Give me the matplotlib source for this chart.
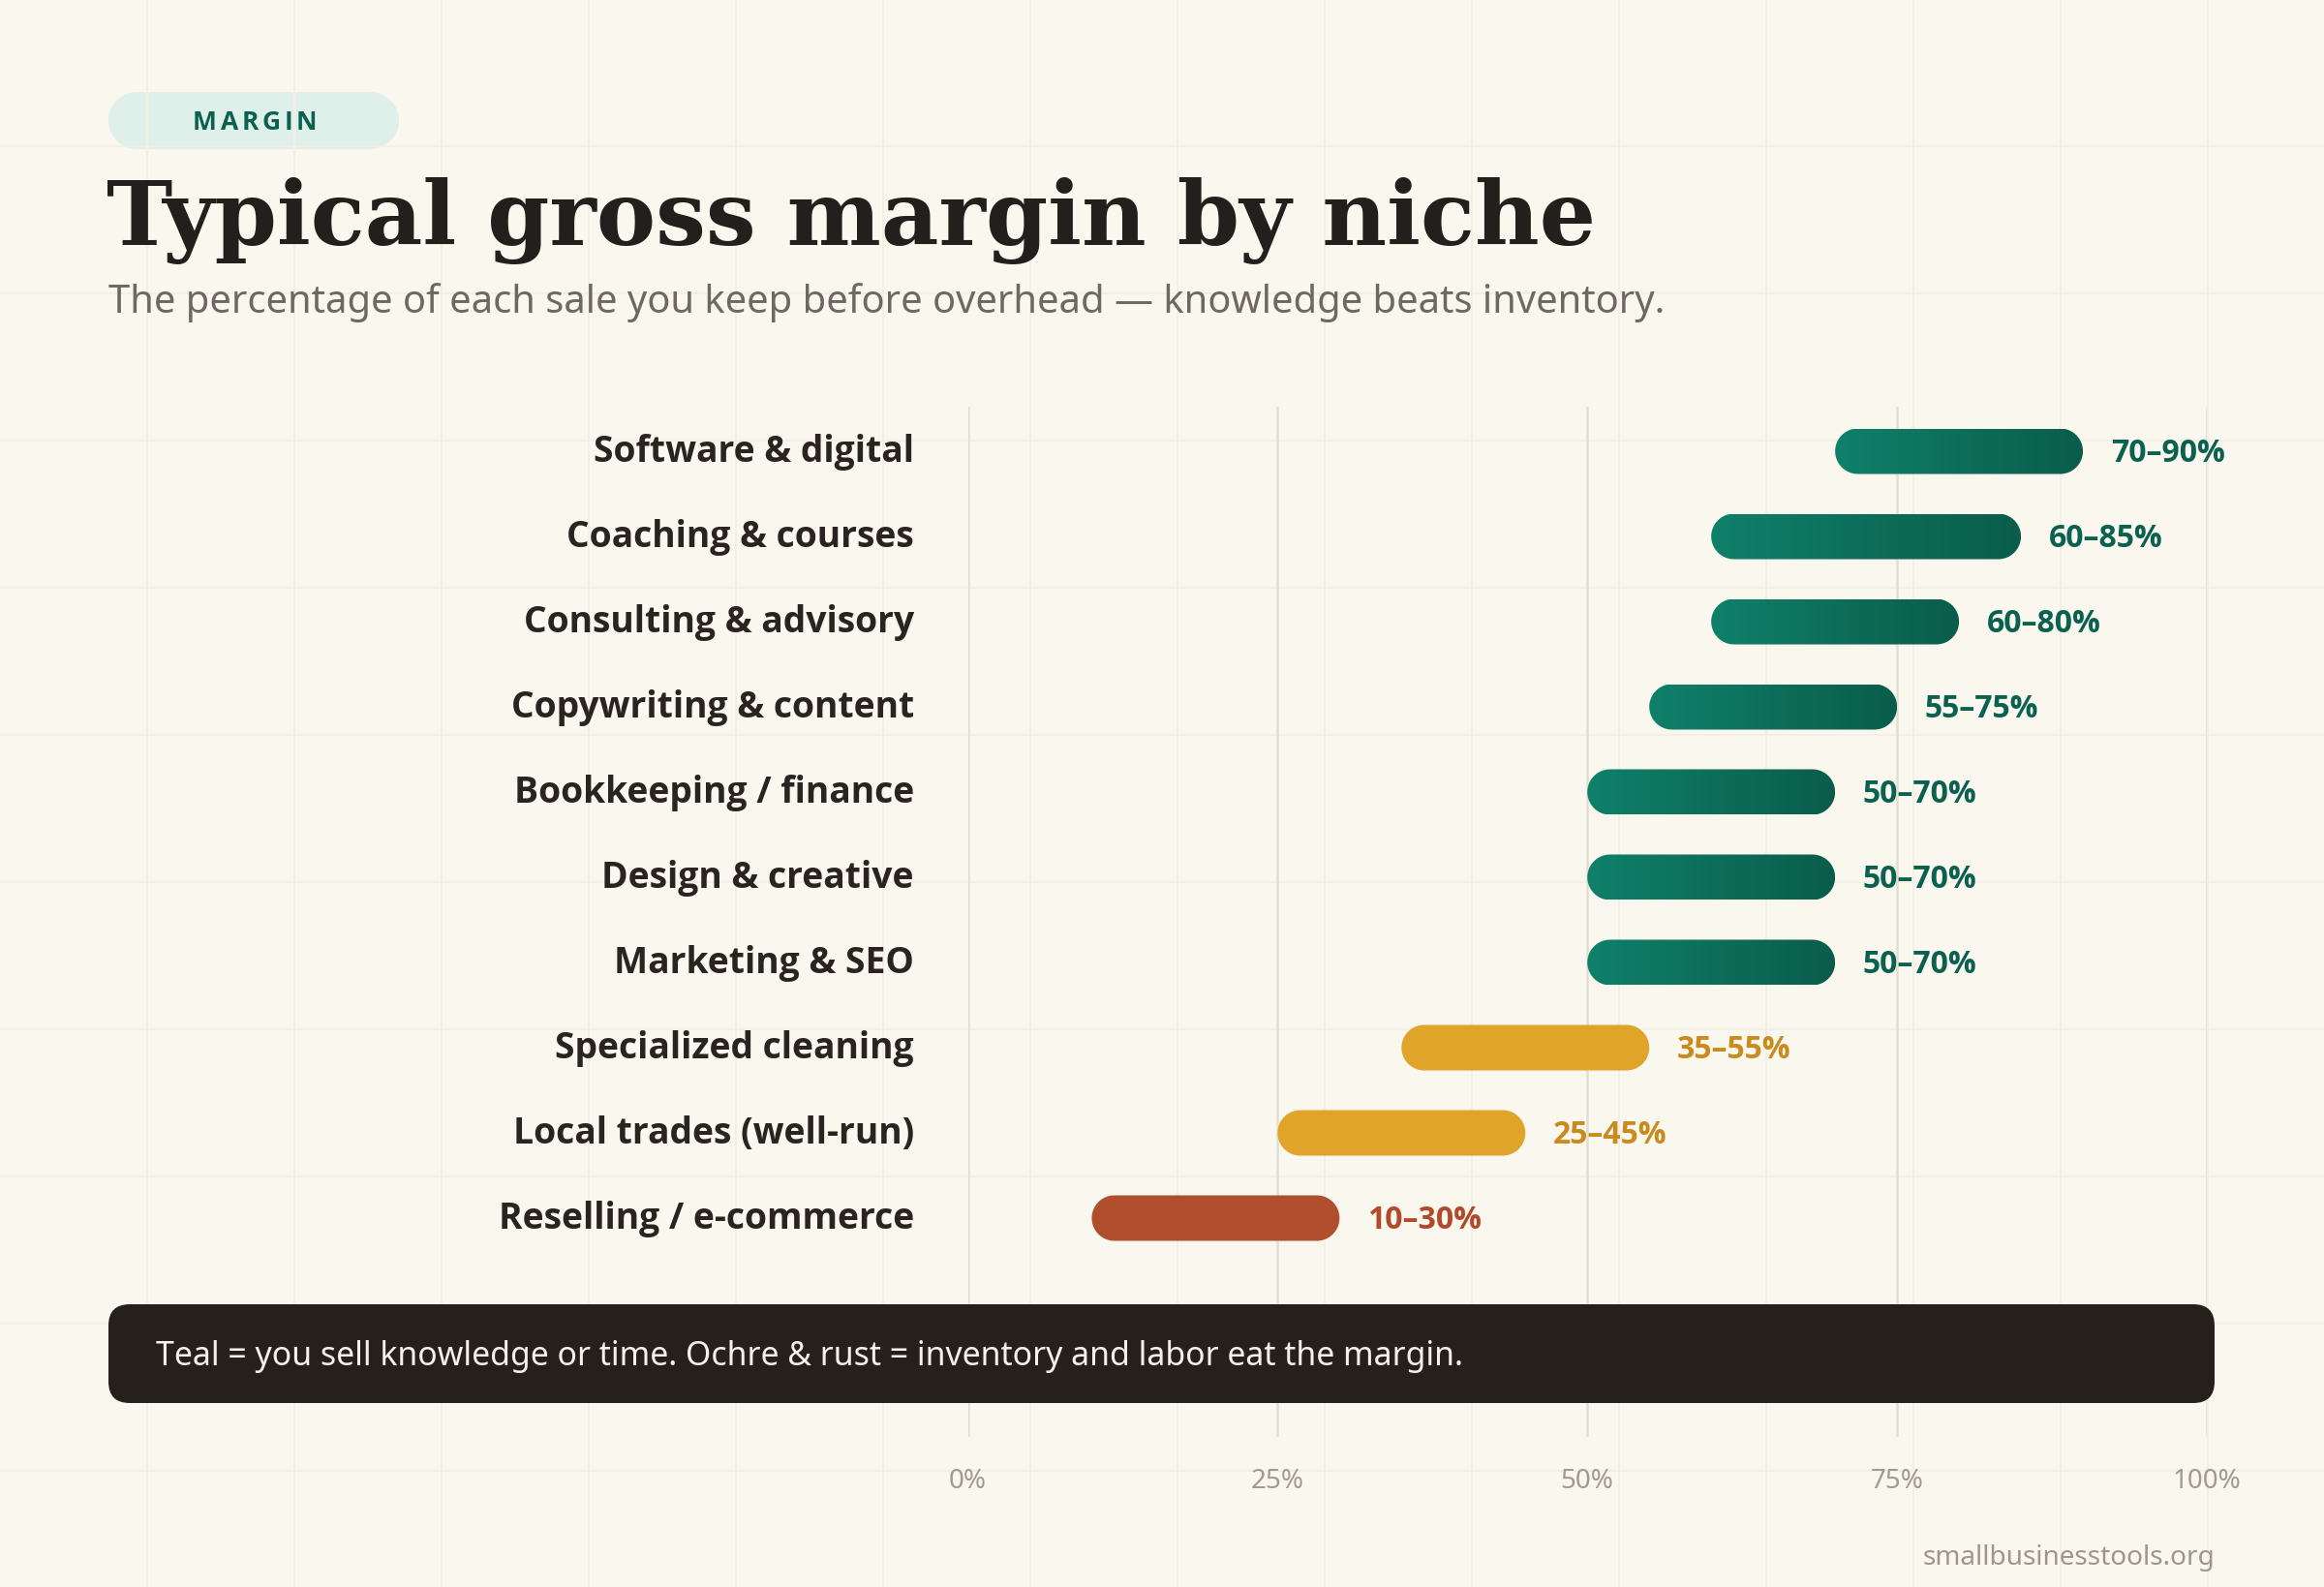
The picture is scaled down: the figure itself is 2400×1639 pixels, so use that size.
import numpy as np
import matplotlib.pyplot as plt
from matplotlib import font_manager as fm
from matplotlib.patches import FancyBboxPatch, Polygon
from matplotlib.colors import LinearSegmentedColormap
from matplotlib.transforms import IdentityTransform, ScaledTranslation

# Data
niches = ["Software & digital", "Coaching & courses", "Consulting & advisory",
          "Copywriting & content", "Bookkeeping / finance", "Design & creative",
          "Marketing & SEO", "Specialized cleaning", "Local trades (well-run)",
          "Reselling / e-commerce"]
low = [70, 60, 60, 55, 50, 50, 50, 35, 25, 10]
high = [90, 85, 80, 75, 70, 70, 70, 55, 45, 30]
group = ["teal"] * 7 + ["ochre"] * 2 + ["rust"]
ticks = [0, 25, 50, 75, 100]
tick_labels = ["0%", "25%", "50%", "75%", "100%"]

title = "Typical gross margin by niche"
subtitle = "The percentage of each sale you keep before overhead \u2014 knowledge beats inventory."
note = "Teal = you sell knowledge or time. Ochre & rust = inventory and labor eat the margin."
source = "smallbusinesstools.org"

# Colours
BG = "#FAF7EF"
BG_GRID = "#F3EFE6"
INK = "#231F1C"
bar_color = {"teal": "#0E7A65", "ochre": "#E0A42A", "rust": "#B04E2D"}
text_color = {"teal": "#0B6150", "ochre": "#C98B1D", "rust": "#B04A2A"}
teal_cmap = LinearSegmentedColormap.from_list("teal", ["#0F806A", "#0A5D4B"])


def pick_family(cands, min_weight):
    for fam in cands:
        for f in fm.fontManager.ttflist:
            w = f.weight if isinstance(f.weight, int) else fm.weight_dict.get(f.weight, 400)
            if f.name == fam and w >= min_weight:
                return fam
    return "DejaVu Sans"


SANS = [pick_family(["Noto Sans", "Open Sans", "DejaVu Sans"], 400), "DejaVu Sans"]
SANS_B = [pick_family(["Noto Sans", "Open Sans", "Lato", "DejaVu Sans"], 650), "DejaVu Sans"]
SERIF = ["DejaVu Serif"]

W, H, DPI = 2400, 1640, 200
fig = plt.figure(figsize=(W / DPI, H / DPI), dpi=DPI, facecolor=BG)
renderer = fig.canvas.get_renderer()


def fx(px):
    return px / W


def fy(py):
    return 1 - py / H


def fit_width(t, target):
    w = t.get_window_extent(renderer).width
    t.set_fontsize(t.get_fontsize() * target / w)
    return t


def pill(left, bottom, width, height, n=48):
    # stadium outline in display pixels: straight sides, semicircular ends
    r = height / 2
    cy = bottom + r
    a = np.linspace(-np.pi / 2, np.pi / 2, n)
    right_end = np.column_stack([left + width - r + r * np.cos(a), cy + r * np.sin(a)])
    left_end = np.column_stack([left + r - r * np.cos(a), cy - r * np.sin(a)])
    return np.vstack([right_end, left_end])


# Background layer (pixel coordinates)
bg = fig.add_axes([0, 0, 1, 1], zorder=0)
bg.set_xlim(0, W)
bg.set_ylim(H, 0)
bg.axis("off")
for gx in np.arange(152, W, 152):
    bg.axvline(gx, color=BG_GRID, lw=0.7)
for gy in np.arange(152, H, 152):
    bg.axhline(gy, color=BG_GRID, lw=0.7)

# Pill tag
bg.add_patch(Polygon(pill(112, 96, 300, 59), closed=True, fc="#DFF0EA", ec="none"))
letters = "MARGIN"
widths = []
for ch in letters:
    t = bg.text(0, 0, ch, fontsize=9.5, weight="bold", family=SANS_B)
    widths.append(t.get_window_extent(renderer).width)
    t.remove()
tracking = (128 - sum(widths)) / (len(letters) - 1)
cx = 263 - (sum(widths) + tracking * (len(letters) - 1)) / 2
for ch, w in zip(letters, widths):
    bg.text(cx, 127, ch, fontsize=9.5, weight="bold", family=SANS_B, color="#0B6150",
            ha="left", va="center")
    cx += w + tracking

# Title and subtitle, fitted to the reference widths
fit_width(bg.text(110, 253, title, fontsize=32, weight="bold", family=SERIF, color=INK,
                  va="baseline"), 1538)
fit_width(bg.text(112, 313, subtitle, fontsize=14, family=SANS, color="#6E6862",
                  va="center"), 1605)

# Chart axes
x0, x1, y0, y1 = 999.5, 2279, 421, 1485
row0, row_step = 467, 88
ax = fig.add_axes([fx(x0), fy(y1), (x1 - x0) / W, (y1 - y0) / H], zorder=1)
ax.set_facecolor("none")
ax.set_xlim(0, 100)
ax.set_ylim((y1 - row0) / row_step, -(row0 - y0) / row_step)
bar_h = 47 / row_step

probe = ax.text(0, 0, "70\u201390%", fontsize=13, weight="bold", family=SANS_B)
val_size = 13 * 118 / probe.get_window_extent(renderer).width
probe.remove()

for i, (lo, hi, g) in enumerate(zip(low, high, group)):
    (ax_, ay_), (bx_, by_) = ax.transData.transform([(lo, i - bar_h / 2), (hi, i + bar_h / 2)])
    outline = pill(min(ax_, bx_), min(ay_, by_), abs(bx_ - ax_), abs(by_ - ay_))
    patch = Polygon(outline, closed=True, transform=IdentityTransform(),
                    fc=bar_color[g] if g != "teal" else "none", ec="none", zorder=3)
    ax.add_patch(patch)
    if g == "teal":
        im = ax.imshow(np.linspace(0, 1, 256).reshape(1, -1), cmap=teal_cmap, aspect="auto",
                       extent=[lo, hi, i + bar_h / 2, i - bar_h / 2], interpolation="bicubic",
                       zorder=3)
        im.set_clip_path(patch)
    ax.text(hi + 2.25, i + 0.02, f"{lo}\u2013{hi}%", va="center", ha="left", fontsize=val_size,
            weight="bold", family=SANS_B, color=text_color[g])

ax.set_xlim(0, 100)
ax.set_ylim((y1 - row0) / row_step, -(row0 - y0) / row_step)

probe = ax.text(0, 0, niches[0], fontsize=14, weight="bold", family=SANS_B)
lab_size = 14 * 331 / probe.get_window_extent(renderer).width
probe.remove()
ax.set_yticks(range(len(niches)), niches, fontsize=lab_size, weight="bold", family=SANS_B,
              color="#2A2420")
ax.set_xticks(ticks, tick_labels, fontsize=10, family=SANS, color="#A09A8F")
ax.tick_params(axis="y", length=0, pad=20)
ax.tick_params(axis="x", length=0, pad=11)
lift = ScaledTranslation(0, 4 / DPI, fig.dpi_scale_trans)
for lab in ax.get_yticklabels():
    lab.set_transform(lab.get_transform() + lift)
ax.grid(axis="x", color="#E3DED2", lw=0.9)
ax.set_axisbelow(True)
for s in ax.spines.values():
    s.set_visible(False)

# Overlay: note box and source
top = fig.add_axes([0, 0, 1, 1], zorder=2)
top.set_xlim(0, W)
top.set_ylim(H, 0)
top.axis("off")
top.add_patch(FancyBboxPatch((112, 1348), 2175, 102, boxstyle="round,pad=0,rounding_size=22",
                             fc="#26201D", ec="none"))
fit_width(top.text(161, 1401, note, fontsize=12, family=SANS, color="#F5F1E8", va="center"), 1353)
fit_width(top.text(2287, 1609, source, fontsize=10, family=SANS, color="#9C968B", ha="right",
                   va="center"), 302)

fig.savefig("out.png", dpi=DPI, facecolor=BG)
